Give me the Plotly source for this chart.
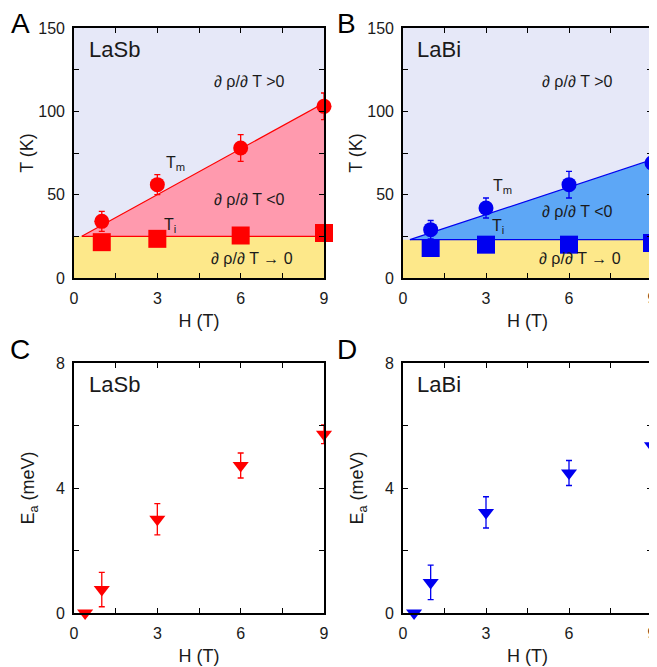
import plotly.graph_objects as go

# ---------------- data ----------------
H_pts = [1, 3, 6, 9]

# Panel A (LaSb)
Tm_A = [34, 56, 78, 103]
Tm_A_err = [6, 6, 8, 8]
Ti_A = [21.5, 23.5, 25.5, 27]
bound_H_A = [0.28, 9]
bound_Tm_A = [25, 105]
Ti_level_A = 25

# Panel B (LaBi)
Tm_B = [29, 42, 56, 69]
Tm_B_err = [5.5, 6, 8, 8]
Ti_B = [18, 20, 20, 21]
bound_H_B = [0.25, 9]
bound_Tm_B = [23, 71]
Ti_level_B = 23

# Panels C / D (activation energy)
H_E = [0.4, 1, 3, 6, 9]
Ea_C = [0, 0.75, 3.0, 4.72, 5.72]
Ea_C_err = [0, 0.55, 0.5, 0.4, 0.3]
Ea_D = [0, 0.98, 3.22, 4.48, 5.35]
Ea_D_err = [0, 0.55, 0.5, 0.4, 0.33]

x_tickvals = [0, 1.5, 3, 4.5, 6, 7.5, 9]
x_ticktext = ["0", "", "3", "", "6", "", "9"]
yT_tickvals = [0, 25, 50, 75, 100, 125, 150]
yT_ticktext = ["0", "", "50", "", "100", "", "150"]
yE_tickvals = [0, 2, 4, 6, 8]
yE_ticktext = ["0", "", "4", "", "8"]

H_range = [0, 9]
T_range = [0, 150]
E_range = [0, 8]

# ---------------- styling ----------------
FONT = "Liberation Sans, Arial, sans-serif"
LAV = "#E6E8F8"
YEL = "#FDE88A"
PINK = "#FF9AAE"
BLUEF = "#5DA7F6"
RED = "#FF0000"
BLUE = "#0000F0"
TXT = "#1a1a1a"

W, Hh = 657, 667
OFF = 8  # page body margin offset
def px_x(a, b):
    return [(a - OFF) / W, (b - OFF) / W]
def px_y(top, bot):
    return [1 - (bot - OFF) / Hh, 1 - (top - OFF) / Hh]

dom = {
    "A": (px_x(74, 324), px_y(28, 278)),
    "B": (px_x(403, 652), px_y(28, 278)),
    "C": (px_x(74, 324), px_y(363, 613)),
    "D": (px_x(403, 652), px_y(363, 613)),
}
axnames = {"A": ("x", "y"), "B": ("x2", "y2"), "C": ("x3", "y3"), "D": ("x4", "y4")}

fig = go.Figure()

def phase_panel(key, Tm, Tm_err, Ti, bH, bT, Ti_lvl, fillc, mc):
    xa, ya = axnames[key]
    fig.add_trace(go.Scatter(x=[H_range[0], H_range[1], H_range[1], H_range[0], H_range[0]],
                             y=[T_range[0], T_range[0], T_range[1], T_range[1], T_range[0]],
                             fill="toself", fillcolor=LAV, mode="none", xaxis=xa, yaxis=ya,
                             hoverinfo="skip", showlegend=False))
    fig.add_trace(go.Scatter(x=[H_range[0], H_range[1], H_range[1], H_range[0], H_range[0]],
                             y=[0, 0, Ti_lvl, Ti_lvl, 0],
                             fill="toself", fillcolor=YEL, mode="none", xaxis=xa, yaxis=ya,
                             hoverinfo="skip", showlegend=False))
    fig.add_trace(go.Scatter(x=[bH[0], bH[1], bH[1], bH[0]],
                             y=[bT[0], bT[1], Ti_lvl, bT[0]],
                             fill="toself", fillcolor=fillc, mode="none", xaxis=xa, yaxis=ya,
                             hoverinfo="skip", showlegend=False))
    fig.add_trace(go.Scatter(x=bH, y=bT, mode="lines", line=dict(color=mc, width=1.2),
                             xaxis=xa, yaxis=ya, hoverinfo="skip", showlegend=False))
    fig.add_trace(go.Scatter(x=[bH[0], H_range[1]], y=[Ti_lvl, Ti_lvl], mode="lines",
                             line=dict(color=mc, width=1.2),
                             xaxis=xa, yaxis=ya, hoverinfo="skip", showlegend=False))
    fig.add_trace(go.Scatter(x=H_pts, y=Tm, mode="markers",
                             marker=dict(symbol="circle", size=15, color=mc),
                             error_y=dict(type="data", array=Tm_err, color=mc, thickness=1.3, width=3),
                             cliponaxis=False, xaxis=xa, yaxis=ya, showlegend=False))
    fig.add_trace(go.Scatter(x=H_pts, y=Ti, mode="markers",
                             marker=dict(symbol="square", size=18, color=mc),
                             cliponaxis=False, xaxis=xa, yaxis=ya, showlegend=False))

def ea_panel(key, Ea, Ea_err, mc):
    xa, ya = axnames[key]
    fig.add_trace(go.Scatter(x=H_E, y=Ea, mode="markers",
                             marker=dict(symbol="triangle-down", size=14, color=mc),
                             error_y=dict(type="data", array=Ea_err, color=mc, thickness=1.3, width=3),
                             cliponaxis=False, xaxis=xa, yaxis=ya, showlegend=False))

phase_panel("A", Tm_A, Tm_A_err, Ti_A, bound_H_A, bound_Tm_A, Ti_level_A, PINK, RED)
phase_panel("B", Tm_B, Tm_B_err, Ti_B, bound_H_B, bound_Tm_B, Ti_level_B, BLUEF, BLUE)
ea_panel("C", Ea_C, Ea_C_err, RED)
ea_panel("D", Ea_D, Ea_D_err, BLUE)

axis_common = dict(showline=True, linecolor="black", linewidth=1.6, mirror="allticks",
                   ticks="inside", ticklen=5, tickwidth=1.2, tickcolor="black",
                   showgrid=False, zeroline=False, automargin=False,
                   tickfont=dict(family=FONT, size=16, color=TXT),
                   layer="above traces")

layout = dict(width=W, height=Hh, margin=dict(l=0, r=0, t=0, b=0, autoexpand=False),
              paper_bgcolor="white", plot_bgcolor="white", showlegend=False,
              font=dict(family=FONT, color=TXT))

for i, key in enumerate(["A", "B", "C", "D"]):
    sfx = "" if i == 0 else str(i + 1)
    xd, yd = dom[key]
    xax = dict(axis_common, domain=xd, range=H_range, tickvals=x_tickvals, ticktext=x_ticktext,
               anchor="y" + sfx, ticklabelstandoff=5,
               title=dict(text="H (T)", font=dict(family=FONT, size=18, color=TXT), standoff=8))
    if key in ("A", "B"):
        yax = dict(axis_common, domain=yd, range=T_range, tickvals=yT_tickvals, ticktext=yT_ticktext,
                   anchor="x" + sfx, ticklabelstandoff=4,
                   title=dict(text="T (K)", font=dict(family=FONT, size=18, color=TXT), standoff=0))
    else:
        yax = dict(axis_common, domain=yd, range=E_range, tickvals=yE_tickvals, ticktext=yE_ticktext,
                   anchor="x" + sfx, ticklabelstandoff=4,
                   title=dict(text="E<sub>a</sub> (meV)", font=dict(family=FONT, size=18, color=TXT), standoff=17))
    layout["xaxis" + sfx] = xax
    layout["yaxis" + sfx] = yax

fig.update_layout(**layout)

ann = []
def add_text(xref, yref, x, y, text, size, xanchor="center"):
    ann.append(dict(x=x, y=y, xref=xref, yref=yref, text=text, showarrow=False,
                    font=dict(family=FONT, size=size, color=TXT), xanchor=xanchor, yanchor="middle"))

for key, name in [("A", "LaSb"), ("B", "LaBi"), ("C", "LaSb"), ("D", "LaBi")]:
    xa, ya = axnames[key]
    top = 150 if key in ("A", "B") else 8
    add_text(xa, ya, 0.45, top * 0.915, name, 22, xanchor="left")

for key, tm_xy, ti_xy, neg_y in [("A", (3.65, 69), (3.45, 31.5), 47), ("B", (3.6, 55), (3.45, 31), 40)]:
    xa, ya = axnames[key]
    add_text(xa, ya, 6.3, 118, "∂ ρ/∂ T >0", 16)
    add_text(xa, ya, 6.3, neg_y, "∂ ρ/∂ T <0", 16)
    add_text(xa, ya, 6.4, 12, "∂ ρ/∂ T → 0", 16)
    add_text(xa, ya, tm_xy[0], tm_xy[1], "T<sub>m</sub>", 16)
    add_text(xa, ya, ti_xy[0], ti_xy[1], "T<sub>i</sub>", 16)

for letter, px, py in [("A", 20, 24), ("B", 346, 24), ("C", 20, 349), ("D", 347, 349)]:
    ann.append(dict(x=(px - OFF) / W, y=1 - (py - OFF) / Hh, xref="paper", yref="paper", text=letter,
                    showarrow=False, font=dict(family=FONT, size=28, color="black"),
                    xanchor="center", yanchor="middle"))

fig.update_layout(annotations=ann)
fig.write_html("out.html")
